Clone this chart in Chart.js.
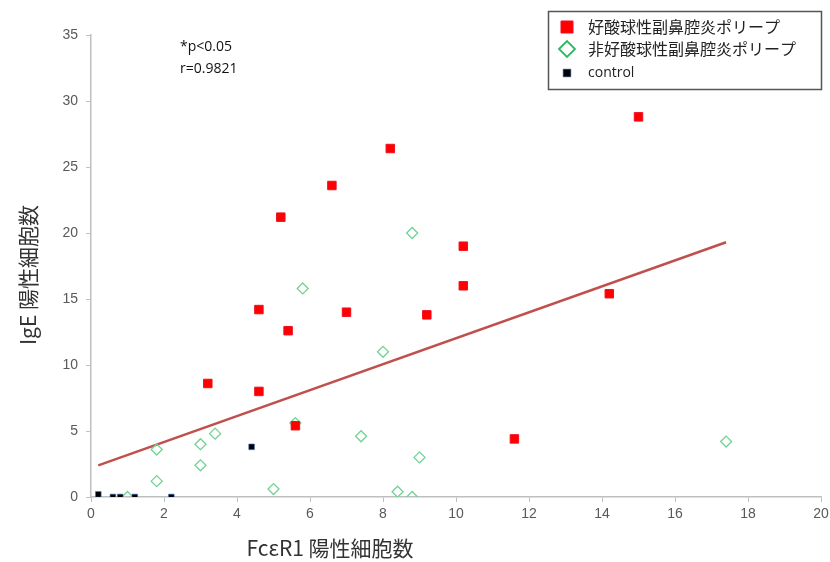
<!DOCTYPE html>
<html lang="ja">
<head>
    <meta charset="UTF-8">
    <title>FcεR1 vs IgE</title>
    <script src="https://cdn.jsdelivr.net/npm/chart.js"></script>
    <style>
        body { margin: 0; background: #fff; }
        #wrap { width: 830px; height: 562px; }
    </style>
</head>
<body>
    <div id="wrap"><canvas id="scatterChart"></canvas></div>

    <script>
        // 好酸球性副鼻腔炎ポリープ
        const eosX = [3.2, 4.6, 4.6, 5.2, 5.4, 5.6, 6.6, 7.0, 8.2, 9.2, 10.2, 10.2, 11.6, 14.2, 15.0];
        const eosY = [8.6, 8.0, 14.2, 21.2, 12.6, 5.4, 23.6, 14.0, 26.4, 13.8, 19.0, 16.0, 4.4, 15.4, 28.8];
        // 非好酸球性副鼻腔炎ポリープ
        const nonEosX = [1.0, 1.8, 1.8, 3.0, 3.0, 3.4, 5.0, 5.6, 5.8, 7.4, 8.0, 8.4, 8.8, 8.8, 9.0, 17.4];
        const nonEosY = [0.0, 3.6, 1.2, 4.0, 2.4, 4.8, 0.6, 5.6, 15.8, 4.6, 11.0, 0.4, 20.0, 0.0, 3.0, 4.2];
        // control
        const ctrlX = [0.2, 0.6, 0.8, 1.2, 2.2, 4.4];
        const ctrlY = [0.2, 0.0, 0.0, 0.0, 0.0, 3.8];
        // 近似直線
        const trendX = [0.2, 17.4];
        const trendY = [2.4, 19.3];

        const xTicks = [0, 2, 4, 6, 8, 10, 12, 14, 16, 18, 20];
        const yTicks = [0, 5, 10, 15, 20, 25, 30, 35];

        const seriesLabels = ['好酸球性副鼻腔炎ポリープ', '非好酸球性副鼻腔炎ポリープ', 'control'];
        const notes = ['*p<0.05', 'r=0.9821'];

        const toPoints = (xs, ys) => xs.map((x, i) => ({ x: x, y: ys[i] }));

        const jpFont = "'Noto Sans CJK JP', 'Noto Sans', sans-serif";
        const tickFont = "'Liberation Sans Narrow', 'Liberation Sans', sans-serif";

        // legend box, note text and axis titles
        const extras = {
            id: 'extras',
            afterDraw(chart) {
                const ctx = chart.ctx;
                const ds = chart.data.datasets;
                ctx.save();

                // notes
                ctx.fillStyle = '#111';
                ctx.font = "14px 'Open Sans', sans-serif";
                ctx.textAlign = 'left';
                ctx.textBaseline = 'middle';
                ctx.fillText(notes[0], 180, 47);
                ctx.fillText(notes[1], 180, 69);

                // legend
                ctx.strokeStyle = '#555';
                ctx.lineWidth = 1.5;
                ctx.fillStyle = '#fff';
                ctx.fillRect(548.5, 11.5, 273, 78);
                ctx.strokeRect(548.5, 11.5, 273, 78);
                const rows = [27, 49, 73];
                const sizes = [8.5, 8, 5.5];
                const lineW = [1, 1.8, 1];
                for (let i = 0; i < 3; i++) {
                    ctx.fillStyle = ds[i].backgroundColor;
                    ctx.strokeStyle = i === 1 ? '#2fb862' : ds[i].borderColor;
                    ctx.lineWidth = lineW[i];
                    Chart.helpers.drawPoint(ctx, {
                        pointStyle: ds[i].pointStyle,
                        radius: sizes[i],
                        borderWidth: lineW[i]
                    }, 567, rows[i]);
                    ctx.fillStyle = '#222';
                    ctx.font = i < 2 ? '16px ' + jpFont : "14px 'Open Sans', sans-serif";
                    ctx.fillText(seriesLabels[i], 588, rows[i]);
                }

                // axis titles
                ctx.fillStyle = '#333';
                ctx.font = '21px ' + jpFont;
                ctx.textAlign = 'center';
                ctx.fillText('FcεR1 陽性細胞数', 330, 548);
                ctx.translate(28, 275);
                ctx.rotate(-Math.PI / 2);
                ctx.fillText('IgE 陽性細胞数', 0, 0);
                ctx.restore();
            }
        };

        const ctx = document.getElementById('scatterChart').getContext('2d');
        const scatterChart = new Chart(ctx, {
            type: 'scatter',
            data: {
                datasets: [{
                    label: seriesLabels[0],
                    data: toPoints(eosX, eosY),
                    pointStyle: 'rect',
                    pointRadius: 6,
                    backgroundColor: '#ff0000',
                    borderColor: '#f01020',
                    borderWidth: 1,
                    order: 1
                }, {
                    label: seriesLabels[1],
                    data: toPoints(nonEosX, nonEosY),
                    pointStyle: 'rectRot',
                    pointRadius: 5.5,
                    backgroundColor: 'rgba(0,0,0,0)',
                    borderColor: '#72d294',
                    borderWidth: 1.3,
                    order: 2
                }, {
                    label: seriesLabels[2],
                    data: toPoints(ctrlX, ctrlY),
                    pointStyle: 'rect',
                    pointRadius: 4,
                    backgroundColor: '#000000',
                    borderColor: 'rgba(68,114,196,0.6)',
                    borderWidth: 1,
                    order: 0
                }, {
                    type: 'line',
                    label: 'trend',
                    data: toPoints(trendX, trendY),
                    borderColor: '#c0504d',
                    borderWidth: 2.5,
                    pointRadius: 0,
                    fill: false,
                    order: 3
                }]
            },
            options: {
                responsive: true,
                maintainAspectRatio: false,
                animation: false,
                layout: { padding: { top: 35, right: 9, left: 0, bottom: 0 } },
                plugins: {
                    legend: { display: false },
                    tooltip: { enabled: false }
                },
                scales: {
                    x: {
                        type: 'linear',
                        min: 0,
                        max: 20,
                        afterBuildTicks: s => { s.ticks = xTicks.map(v => ({ value: v })); },
                        afterFit: s => { s.height = 65; s.paddingRight = 0; s.paddingLeft = 0; },
                        border: { color: '#bfbfbf', width: 1.5 },
                        grid: { drawOnChartArea: false, drawTicks: true, tickLength: 5, color: '#bfbfbf' },
                        ticks: { color: '#595959', padding: 4, font: { family: tickFont, size: 14 } }
                    },
                    y: {
                        type: 'linear',
                        min: 0,
                        max: 35,
                        afterBuildTicks: s => { s.ticks = yTicks.map(v => ({ value: v })); },
                        afterFit: s => { s.width = 91; },
                        border: { color: '#bfbfbf', width: 1.5 },
                        grid: { drawOnChartArea: false, drawTicks: true, tickLength: 5, color: '#bfbfbf' },
                        ticks: { color: '#595959', padding: 8, font: { family: tickFont, size: 14 } }
                    }
                }
            },
            plugins: [extras]
        });
    </script>
</body>
</html>
